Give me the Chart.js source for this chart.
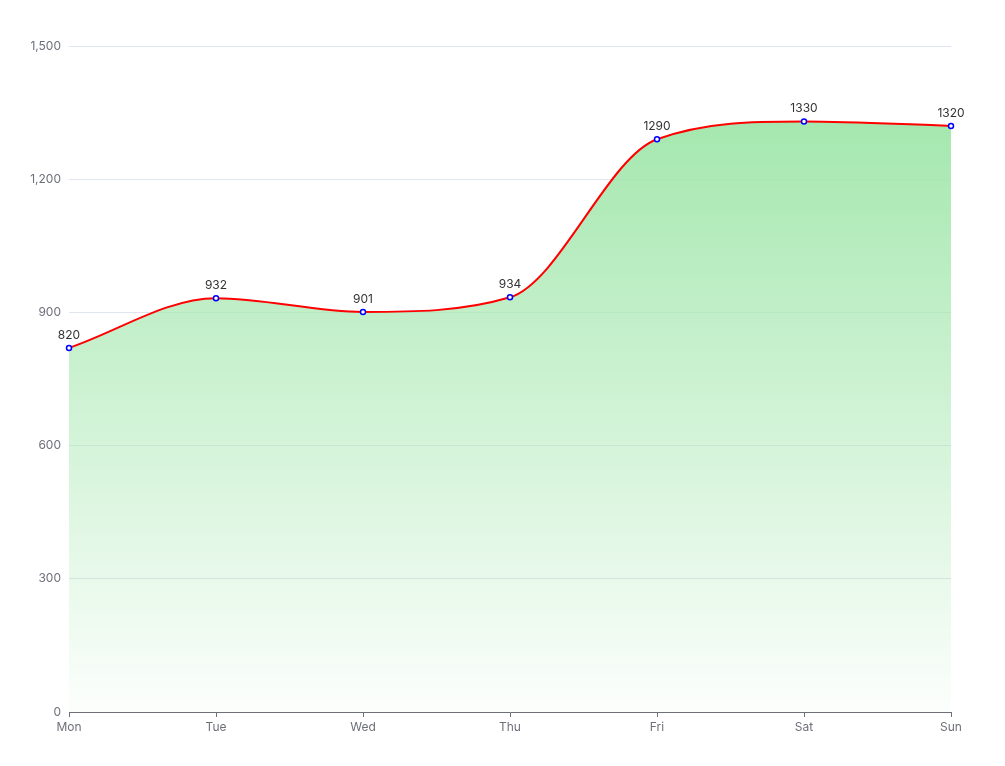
<!DOCTYPE html>
<html>
<head>
<meta charset="utf-8">
<script src="https://cdn.jsdelivr.net/npm/chart.js@4/dist/chart.umd.min.js"></script>
<style>
    body { margin: 0; background: #ffffff; }
    #wrap { width: 1005px; height: 766px; }
</style>
</head>
<body>
<div id="wrap"><canvas id="line_canvas" width="1005" height="766"></canvas></div>
<script>
const days = ["Mon", "Tue", "Wed", "Thu", "Fri", "Sat", "Sun"];
const values = [820, 932, 901, 934, 1290, 1330, 1320];
const y_ticks = [0, 300, 600, 900, 1200, 1500];

const axis_color = "#6E7079";
const grid_color = "#E0E6F1";
const font_family = "Inter, 'Noto Sans', sans-serif";

// draws the value above each point, like echarts label.show
const value_labels = {
    id: "value_labels",
    afterDatasetsDraw(chart) {
        const ctx = chart.ctx;
        const meta = chart.getDatasetMeta(0);
        ctx.save();
        ctx.font = "12px " + font_family;
        ctx.fillStyle = "#333333";
        ctx.textAlign = "center";
        ctx.textBaseline = "bottom";
        meta.data.forEach(function(point, i) {
            ctx.fillText(String(values[i]), point.x, point.y - 7);
        });
        ctx.restore();
    }
};

function area_fill(context) {
    const chart = context.chart;
    const area = chart.chartArea;
    if (!area) { return "rgba(166,233,177,0.6)"; }
    const top = chart.scales.y.getPixelForValue(Math.max(...values));
    const gradient = chart.ctx.createLinearGradient(0, top, 0, area.bottom);
    gradient.addColorStop(0, "rgba(160,230,170,0.95)");
    gradient.addColorStop(1, "rgba(160,230,170,0.03)");
    return gradient;
}

let config = {
    type: "line",
    data: {
        labels: days,
        datasets: [{
            label: "Value",
            data: values,
            borderColor: "#FF0000",
            borderWidth: 2,
            backgroundColor: area_fill,
            fill: "origin",
            cubicInterpolationMode: "monotone",
            pointRadius: 2.5,
            pointBorderWidth: 1.5,
            pointBorderColor: "#0000FF",
            pointBackgroundColor: "#FFFFFF"
        }]
    },
    options: {
        responsive: false,
        animation: false,
        layout: {
            padding: {left: 0, right: 54, top: 46, bottom: 0}
        },
        plugins: {
            legend: {display: false},
            tooltip: {enabled: false}
        },
        scales: {
            x: {
                offset: false,
                afterFit: function(scale) { scale.height = 54; },
                border: {display: true, color: axis_color, width: 1},
                grid: {
                    display: true,
                    drawOnChartArea: false,
                    drawTicks: true,
                    tickLength: 5,
                    color: axis_color
                },
                ticks: {
                    color: axis_color,
                    font: {family: font_family, size: 12},
                    padding: 3,
                    maxRotation: 0
                }
            },
            y: {
                min: 0,
                max: 1500,
                afterFit: function(scale) { scale.width = 69; },
                afterBuildTicks: function(scale) {
                    scale.ticks = y_ticks.map(function(v) { return {value: v}; });
                },
                border: {display: false},
                grid: {
                    color: grid_color,
                    drawTicks: false
                },
                ticks: {
                    color: axis_color,
                    font: {family: font_family, size: 12},
                    padding: 8,
                    callback: function(value) {
                        return new Intl.NumberFormat("en-US").format(value);
                    }
                }
            }
        }
    },
    plugins: [value_labels]
};

const line_plot = new Chart(document.getElementById("line_canvas"), config);
</script>
</body>
</html>
